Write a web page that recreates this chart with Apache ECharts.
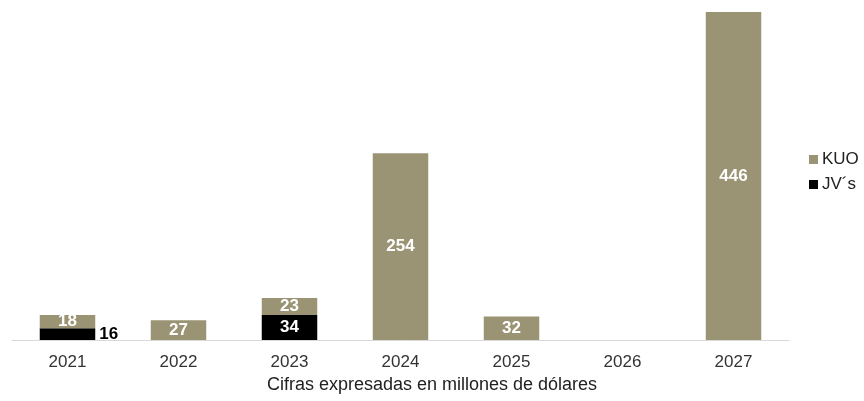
<!DOCTYPE html>
<html>
<head>
<meta charset="utf-8">
<script src="https://cdn.jsdelivr.net/npm/echarts@6/dist/echarts.min.js"></script>
<style>html,body{margin:0;padding:0;background:#fff;}#c{width:864px;height:401px;}</style>
</head>
<body>
<div id="c"></div>
<script>
const categories = ['2021','2022','2023','2024','2025','2026','2027'];
const kuo = [18, 27, 23, 254, 32, null, 446];
const jvs = [16, null, 34, null, null, null, null];
const seriesNames = ['KUO', 'JV´s'];
const axisTitle = 'Cifras expresadas en millones de dólares';

const chart = echarts.init(document.getElementById('c'));
const font = 'Liberation Sans, Arial, sans-serif';
const jvData = jvs.map((v, i) => i === 0 && v != null
  ? { value: v, label: { position: 'right', color: '#000', distance: 4 } }
  : v);
chart.setOption({
  animation: false,
  textStyle: { fontFamily: font },
  title: {
    text: axisTitle, left: 'center', top: 376, padding: 0,
    textStyle: { fontSize: 18, fontWeight: 'normal', color: '#222', fontFamily: font }
  },
  grid: { left: 12, right: 75, top: 12, bottom: 61 },
  legend: {
    orient: 'vertical', left: 804, top: 146, itemGap: 8, itemWidth: 9, itemHeight: 9, icon: 'rect',
    data: [seriesNames[0], seriesNames[1]],
    textStyle: { fontSize: 17, color: '#222', fontFamily: font, padding: [0, 0, 0, -1] }
  },
  xAxis: {
    type: 'category', data: categories,
    axisLine: { lineStyle: { color: '#d9d9d9', width: 1 } },
    axisTick: { show: false },
    axisLabel: { fontSize: 17, color: '#333', margin: 14, fontFamily: font }
  },
  yAxis: { type: 'value', min: 0, max: 446, show: false, splitLine: { show: false } },
  series: [
    {
      name: seriesNames[1], type: 'bar', stack: 's', data: jvData,
      barWidth: '50%', itemStyle: { color: '#000' },
      label: { show: true, position: 'inside', color: '#fff', fontWeight: 'bold', fontSize: 17, fontFamily: font }
    },
    {
      name: seriesNames[0], type: 'bar', stack: 's', data: kuo,
      barWidth: '50%', itemStyle: { color: '#9a9474' },
      label: { show: true, position: 'inside', color: '#fff', fontWeight: 'bold', fontSize: 17, fontFamily: font }
    }
  ]
});
</script>
</body>
</html>
